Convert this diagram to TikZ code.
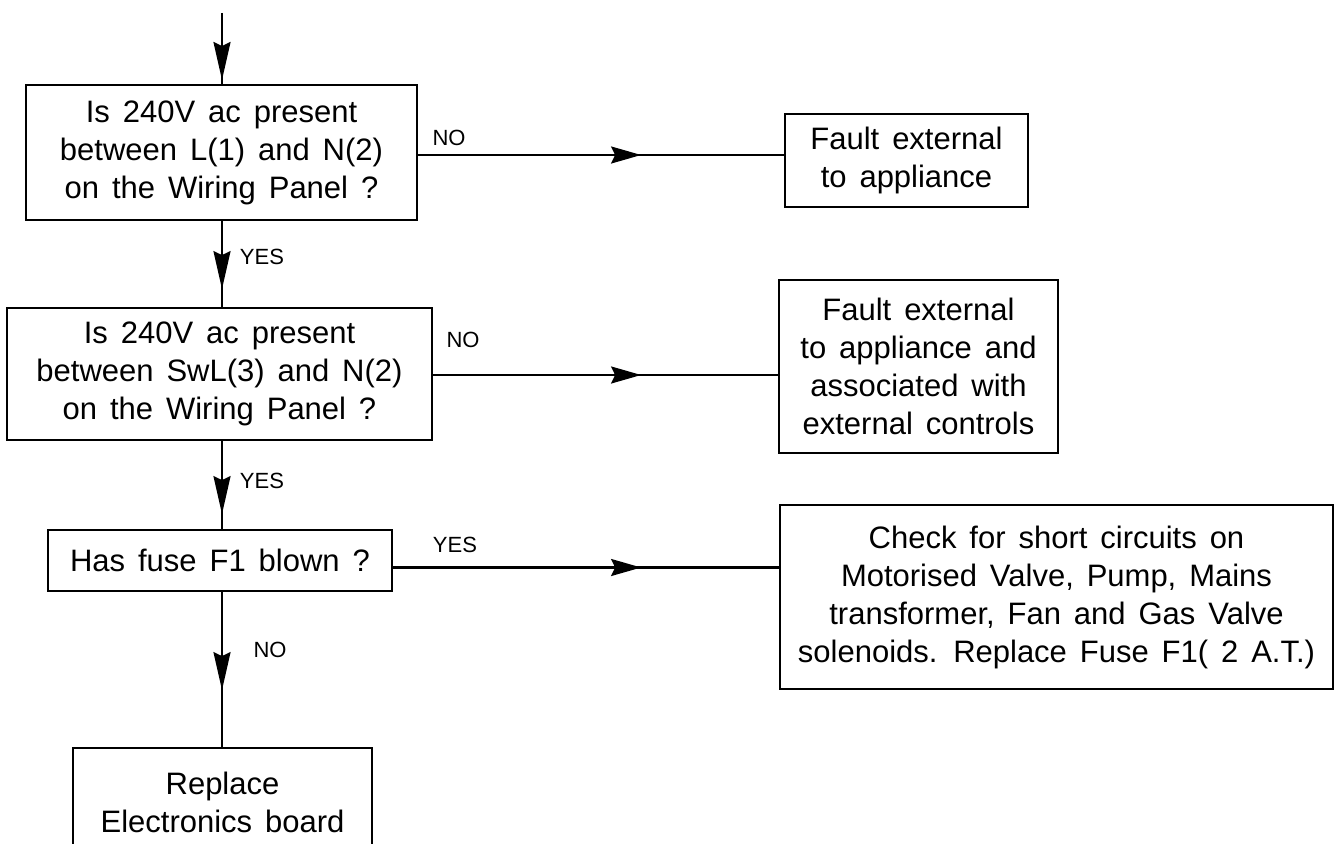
\documentclass[tikz,border=0pt]{standalone}
\usepackage{fontspec}
\setmainfont[WordSpace=1.5]{Liberation Sans}
\usetikzlibrary{arrows.meta,decorations.markings}
\begin{document}
\begin{tikzpicture}[x=1pt,y=-1pt,
  box/.style={draw,line width=2.2pt,inner sep=0pt,align=center,
    font=\fontsize{31}{38}\selectfont},
  lbl/.style={font=\fontsize{22}{26}\selectfont,inner sep=0pt},
  conn/.style={line width=2.2pt},
  vtip/.style={postaction={decorate,decoration={markings,
    mark=at position #1 with {\arrow{Stealth[length=38pt,width=17pt,inset=4pt]}}}}},
  htip/.style={postaction={decorate,decoration={markings,
    mark=at position #1 with {\arrow{Stealth[length=30pt,width=17pt,inset=4pt]}}}}}
]
\useasboundingbox (0,0) rectangle (1337,843);
\clip (0,0) rectangle (1337,843);
\coordinate (entry) at (222,13);
\node[box,minimum width=391pt,minimum height=135pt] (b1) at (221.5,152.5)
  {Is 240V ac present\\between L(1) and N(2)\\on the Wiring Panel ?};
\node[box,minimum width=243pt,minimum height=93pt] (f1) at (906.5,160.5)
  {Fault external\\to appliance};
\node[box,minimum width=425pt,minimum height=132pt] (b2) at (219.5,374)
  {Is 240V ac present\\between SwL(3) and N(2)\\on the Wiring Panel ?};
\node[box,minimum width=279pt,minimum height=173pt] (f2) at (918.5,366.5)
  {Fault external\\to appliance and\\associated with\\external controls};
\node[box,minimum width=344pt,minimum height=61pt] (b3) at (220,560.5)
  {Has fuse F1 blown ?};
\node[box,minimum width=553pt,minimum height=184pt] (f3) at (1056.5,597)
  {Check for short circuits on\\Motorised Valve, Pump, Mains\\transformer, Fan and Gas Valve\\solenoids. Replace Fuse F1( 2 A.T.)};
\node[box,minimum width=299pt,minimum height=108pt,anchor=north] (b5) at (222.5,747)
  {Replace\\Electronics board};
\coordinate (b1e) at ([yshift=-2.5pt]b1.east);
\coordinate (b2e) at ([yshift=-1pt]b2.east);
\coordinate (b3e) at ([yshift=-7pt]b3.east);
% connectors
\draw[conn,vtip=67pt] (entry) -- (b1.north -| entry);
\draw[conn,vtip=68pt] (b1.south -| entry) -- (b2.north -| entry);
\draw[conn,vtip=73pt] (b2.south -| entry) -- (b3.north -| entry);
\draw[conn,vtip=98pt] (b3.south -| entry) -- (b5.north -| entry);
\draw[conn,htip=223pt] (b1e) -- (f1.west |- b1e);
\draw[conn,htip=208pt] (b2e) -- (f2.west |- b2e);
\draw[conn,htip=248pt] (b3e) -- (f3.west |- b3e);
% labels
\node[lbl] (l1) at (449,138) {NO};
\node[lbl] (l2) at (262,257) {YES};
\node[lbl] (l3) at (463,340) {NO};
\node[lbl] (l4) at (262,481) {YES};
\node[lbl] (l5) at (455,545) {YES};
\node[lbl] (l6) at (270,650) {NO};
\end{tikzpicture}
\end{document}
